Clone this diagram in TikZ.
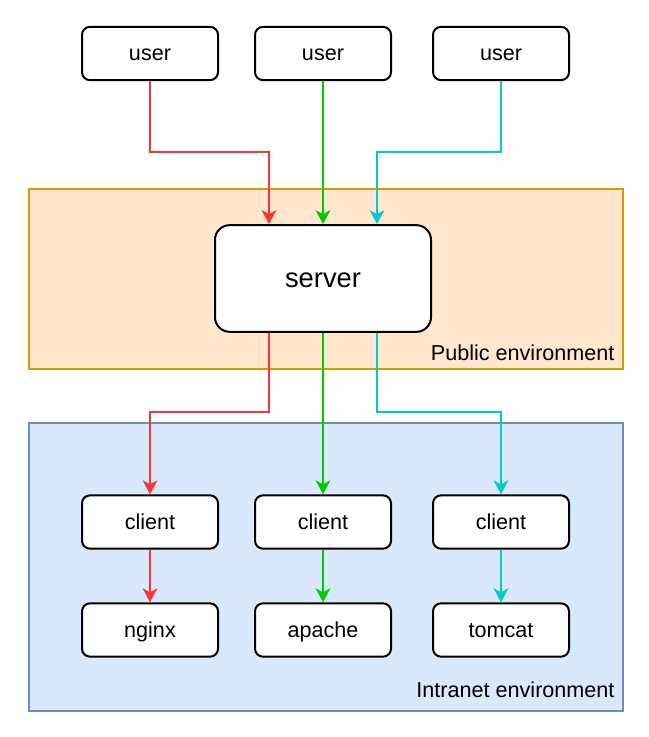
\documentclass[tikz,border=0pt]{standalone}
\usepackage{fontspec}
\setmainfont{Liberation Sans}
\usetikzlibrary{calc,arrows.meta}
\definecolor{cred}{HTML}{FF3333}
\definecolor{cgreen}{HTML}{00CC00}
\definecolor{ccyan}{HTML}{00CCCC}
\definecolor{pubfill}{HTML}{FFE6CC}
\definecolor{pubdraw}{HTML}{D79B00}
\definecolor{intfill}{HTML}{DAE8FC}
\definecolor{intdraw}{HTML}{6C8EBF}
\tikzset{
  box/.style={draw=black, line width=1.5pt, fill=white, rounded corners=6pt,
    minimum width=102pt, minimum height=40pt, inner sep=0pt, text height=11.2pt, text depth=0pt,
    font=\fontsize{16.2}{19}\selectfont},
  bigbox/.style={draw=black, line width=1.5pt, fill=white, rounded corners=11pt,
    minimum width=162pt, minimum height=80pt, inner sep=0pt, text height=12.8pt, text depth=0pt,
    font=\fontsize{20.5}{24}\selectfont},
  env/.style={line width=1.2pt, inner sep=0pt},
  envlabel/.style={anchor=base east, inner sep=0pt, font=\fontsize{16.2}{19}\selectfont},
  conn/.style={line width=1.5pt, -{Stealth[length=10.5pt, width=11pt, inset=3pt]}},
}
\begin{document}
\begin{tikzpicture}[x=0.75pt, y=-0.75pt]
\useasboundingbox (0,0) rectangle (648,737);
% environments
\node[env, draw=pubdraw, fill=pubfill, minimum width=445.5pt, minimum height=135pt] (pub) at (326,279) {};
\node[env, draw=intdraw, fill=intfill, minimum width=445.5pt, minimum height=216pt] (intra) at (326,567) {};
\node[envlabel] (publbl) at ($(pub.south east)+(-9,-9)$) {Public environment};
\node[envlabel] (intlbl) at ($(intra.south east)+(-9,-14)$) {Intranet environment};
% nodes
\node[box] (u1) at (150,53.5) {user};
\node[box] (u2) at (323,53.5) {user};
\node[box] (u3) at (501,53.5) {user};
\node[bigbox] (s) at (323,278.5) {server};
\node[box] (c1) at (150,522) {client};
\node[box] (c2) at (323,522) {client};
\node[box] (c3) at (501,522) {client};
\node[box] (n1) at (150,630) {nginx};
\node[box] (n2) at (323,630) {apache};
\node[box] (n3) at (501,630) {tomcat};
% connectors top
\draw[conn, cred] (u1.south) |- ($(s.north)+(-54,-72)$) -- ($(s.north)+(-54,0)$);
\draw[conn, cgreen] (u2.south) -- (s.north);
\draw[conn, ccyan] (u3.south) |- ($(s.north)+(54,-72)$) -- ($(s.north)+(54,0)$);
% connectors middle
\draw[conn, cred] ($(s.south)+(-54,0)$) |- ($(c1.north)+(0,-82)$) -- (c1.north);
\draw[conn, cgreen] (s.south) -- (c2.north);
\draw[conn, ccyan] ($(s.south)+(54,0)$) |- ($(c3.north)+(0,-82)$) -- (c3.north);
% connectors bottom
\draw[conn, cred] (c1.south) -- (n1.north);
\draw[conn, cgreen] (c2.south) -- (n2.north);
\draw[conn, ccyan] (c3.south) -- (n3.north);
\end{tikzpicture}
\end{document}
